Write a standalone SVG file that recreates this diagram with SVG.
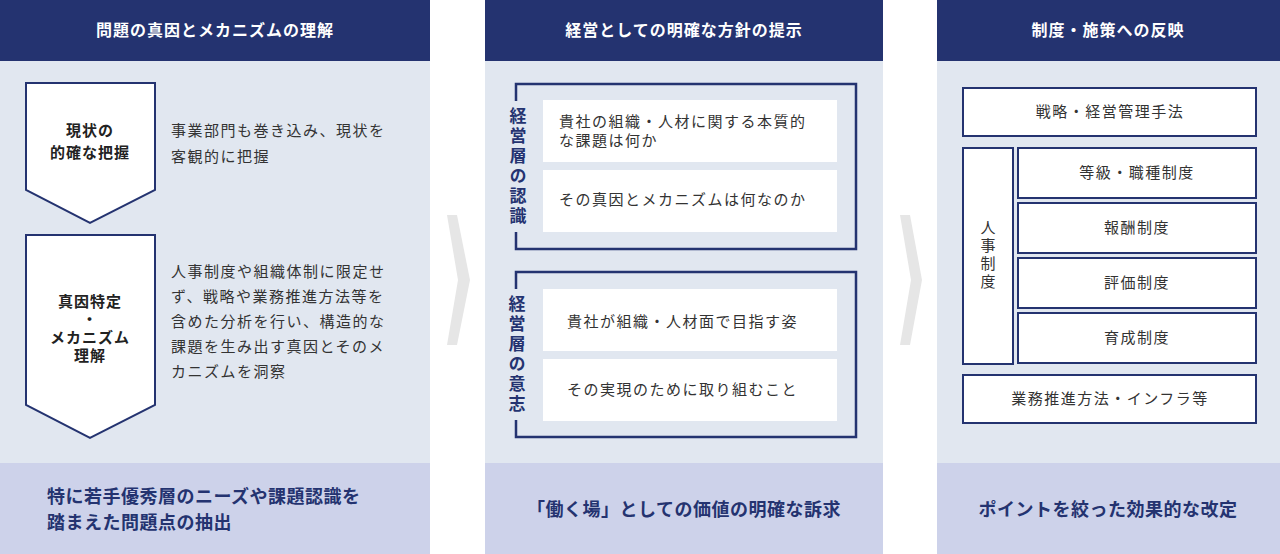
<svg xmlns="http://www.w3.org/2000/svg" width="1280" height="554" viewBox="0 0 1280 554">
<style>
text{font-family:"Noto Sans CJK JP","Noto Sans",sans-serif;}
.hd{fill:#243370}.bd{fill:#e1e7f0}.ft{fill:#cdd2ea}
.ht{fill:#fff;font-size:16px;font-weight:bold;text-anchor:middle;letter-spacing:1px}
.ftt{fill:#243370;font-size:18px;font-weight:bold;letter-spacing:0.5px}
.t{fill:#333;font-size:15px;letter-spacing:1.5px}
.tb{fill:#222;font-size:15px;font-weight:bold;text-anchor:middle;letter-spacing:1px}
.box{fill:#fff;stroke:#243370;stroke-width:2}
.wb{fill:#fff}
.br{fill:none;stroke:#243370;stroke-width:2.5}
.lab{fill:#243370;font-size:17px;font-weight:bold;writing-mode:vertical-rl;letter-spacing:3px}
.vt{fill:#333;font-size:15px;writing-mode:vertical-rl;letter-spacing:3px}
.chev{fill:#e6e6e6}
</style>
<g id="panel1">
<rect class="hd" x="0" y="0" width="430" height="61"/>
<rect class="bd" x="0" y="61" width="430" height="402"/>
<rect class="ft" x="0" y="463" width="430" height="91"/>
<text class="ht" x="215" y="36">問題の真因とメカニズムの理解</text>
<text class="ftt" x="47" y="503">特に若手優秀層のニーズや課題認識を</text>
<text class="ftt" x="47" y="529">踏まえた問題点の抽出</text>
</g>
<g id="step1">
<polygon class="box" points="26,83 155,83 155,190 90,223 26,190"/>
<text class="tb" x="90" y="136">現状の</text>
<text class="tb" x="90" y="158">的確な把握</text>
<text class="t" x="171" y="136">事業部門も巻き込み、現状を</text>
<text class="t" x="171" y="162">客観的に把握</text>
</g>
<g id="step2">
<polygon class="box" points="26,235 155,235 155,405 90,438 26,405"/>
<text class="tb" x="90" y="307">真因特定</text>
<text class="tb" x="90" y="325">・</text>
<text class="tb" x="90" y="343">メカニズム</text>
<text class="tb" x="90" y="361">理解</text>
<text class="t" x="171" y="277">人事制度や組織体制に限定せ</text>
<text class="t" x="171" y="302">ず、戦略や業務推進方法等を</text>
<text class="t" x="171" y="327">含めた分析を行い、構造的な</text>
<text class="t" x="171" y="352">課題を生み出す真因とそのメ</text>
<text class="t" x="171" y="377">カニズムを洞察</text>
</g>
<g id="connectors">
<polygon class="chev" points="447,215 457,215 470,280 457,345 447,345 458,280"/>
<polygon class="chev" points="900,215 910,215 922,280 910,345 900,345 911,280"/>
</g>
<g id="panel2">
<rect class="hd" x="485" y="0" width="398" height="61"/>
<rect class="bd" x="485" y="61" width="398" height="402"/>
<rect class="ft" x="485" y="463" width="398" height="91"/>
<text class="ht" x="684" y="36">経営としての明確な方針の提示</text>
<text class="ftt" x="684" y="516" text-anchor="middle">「働く場」としての価値の明確な訴求</text>
</g>
<g id="recognition">
<path class="br" d="M516,101 V84 H856 V249 H516 V232"/>
<text class="lab" x="518" y="107">経営層の認識</text>
<rect class="wb" x="543" y="100" width="294" height="62"/>
<rect class="wb" x="543" y="170" width="294" height="62"/>
<text class="t" x="559" y="127">貴社の組織・人材に関する本質的</text>
<text class="t" x="559" y="146">な課題は何か</text>
<text class="t" x="559" y="205">その真因とメカニズムは何なのか</text>
</g>
<g id="will">
<path class="br" d="M516,289 V272 H856 V437 H516 V420"/>
<text class="lab" x="517" y="295">経営層の意志</text>
<rect class="wb" x="543" y="289" width="294" height="62"/>
<rect class="wb" x="543" y="359" width="294" height="62"/>
<text class="t" x="567" y="327">貴社が組織・人材面で目指す姿</text>
<text class="t" x="567" y="395">その実現のために取り組むこと</text>
</g>
<g id="panel3">
<rect class="hd" x="937" y="0" width="343" height="61"/>
<rect class="bd" x="937" y="61" width="343" height="402"/>
<rect class="ft" x="937" y="463" width="343" height="91"/>
<text class="ht" x="1108" y="36">制度・施策への反映</text>
<text class="ftt" x="1108" y="516" text-anchor="middle">ポイントを絞った効果的な改定</text>
</g>
<g id="items">
<rect class="box" x="963" y="88" width="293" height="48"/>
<text class="t" x="1110" y="117" text-anchor="middle">戦略・経営管理手法</text>
<rect class="box" x="963" y="148" width="50" height="216"/>
<text class="vt" x="988" y="220">人事制度</text>
<rect class="box" x="1018" y="148" width="238" height="50"/>
<text class="t" x="1137" y="178" text-anchor="middle">等級・職種制度</text>
<rect class="box" x="1018" y="203" width="238" height="50"/>
<text class="t" x="1137" y="233" text-anchor="middle">報酬制度</text>
<rect class="box" x="1018" y="258" width="238" height="50"/>
<text class="t" x="1137" y="288" text-anchor="middle">評価制度</text>
<rect class="box" x="1018" y="313" width="238" height="50"/>
<text class="t" x="1137" y="343" text-anchor="middle">育成制度</text>
<rect class="box" x="963" y="375" width="293" height="48"/>
<text class="t" x="1110" y="404" text-anchor="middle">業務推進方法・インフラ等</text>
</g>
</svg>
